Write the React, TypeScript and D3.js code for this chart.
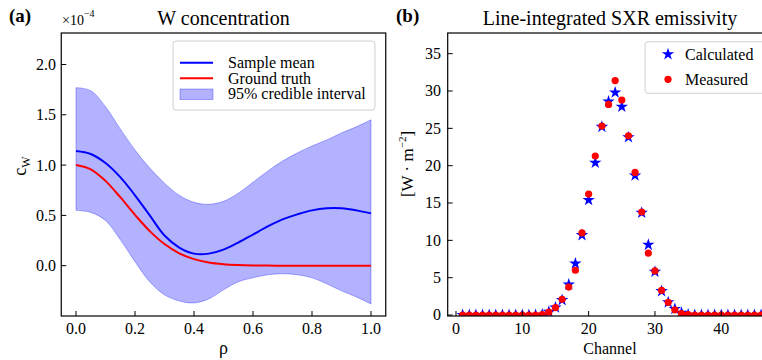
import React from "react";
import * as d3 from "d3";

// ---- Panel (a): W concentration profile (units of 1e-4) ----
const rhoGrid = [0, 0.05, 0.1, 0.15, 0.2, 0.25, 0.3, 0.35, 0.4, 0.45, 0.5, 0.55, 0.6, 0.65, 0.7, 0.75, 0.8, 0.85, 0.9, 0.95, 1.0];
const sampleMean = [1.14, 1.11, 1.02, 0.88, 0.70, 0.50, 0.30, 0.18, 0.12, 0.12, 0.16, 0.23, 0.31, 0.39, 0.46, 0.51, 0.55, 0.57, 0.57, 0.55, 0.52];
const groundTruth = [1.0, 0.958, 0.843, 0.681, 0.505, 0.344, 0.215, 0.123, 0.065, 0.031, 0.014, 0.006, 0.002, 0.001, 0, 0, 0, 0, 0, 0, 0];
const ciUpper = [1.77, 1.74, 1.58, 1.36, 1.15, 0.97, 0.82, 0.70, 0.63, 0.61, 0.64, 0.72, 0.83, 0.94, 1.04, 1.12, 1.19, 1.25, 1.32, 1.38, 1.45];
const ciLower = [0.55, 0.53, 0.45, 0.26, 0.04, -0.16, -0.29, -0.35, -0.37, -0.33, -0.24, -0.16, -0.12, -0.09, -0.08, -0.09, -0.12, -0.18, -0.25, -0.31, -0.38];
const rhoTicks = [0, 0.2, 0.4, 0.6, 0.8, 1.0];
const cwTicks = [0, 0.5, 1.0, 1.5, 2.0];

// ---- Panel (b): line-integrated SXR emissivity per channel ----
const channels = [1, 2, 3, 4, 5, 6, 7, 8, 9, 10, 11, 12, 13, 14, 15, 16, 17, 18, 19, 20, 21, 22, 23, 24, 25, 26, 27, 28, 29, 30, 31, 32, 33, 34, 35, 36, 37, 38, 39, 40, 41, 42, 43, 44, 45, 46];
const calculated = [0, 0, 0, 0, 0, 0, 0, 0, 0, 0, 0, 0, 0.05, 0.45, 1.0, 2.0, 4.1, 6.9, 10.7, 15.4, 20.4, 25.2, 28.6, 29.8, 27.9, 23.8, 18.7, 13.7, 9.4, 5.8, 3.2, 1.7, 0.8, 0.3, 0.05, 0, 0, 0, 0, 0, 0, 0, 0, 0, 0, 0];
const measured = [0, 0, 0, 0, 0, 0, 0, 0, 0, 0, 0, 0, 0.05, 0.4, 1.0, 2.1, 3.75, 6.0, 11.0, 16.2, 21.3, 25.3, 28.2, 31.4, 28.8, 24.0, 19.1, 13.8, 8.3, 5.9, 3.3, 1.7, 0.7, 0.2, 0.05, 0, 0, 0, 0, 0, 0, 0, 0, 0, 0, 0];
const channelTicks = [0, 10, 20, 30, 40];
const emisTicks = [0, 5, 10, 15, 20, 25, 30, 35];

const FONT = "Liberation Serif";
const BLUE = "#0000ff";
const RED = "#ff0000";

const A = { left: 61.25, right: 385.75, top: 33, bottom: 316 };
const B = { left: 447.7, right: 776, top: 33, bottom: 316 };

export default function App() {
  const xA = d3.scaleLinear().domain([-0.05, 1.05]).range([A.left, A.right]);
  const yA = d3.scaleLinear().domain([-0.5, 2.313]).range([A.bottom, A.top]);
  const xB = d3.scaleLinear().domain([-1.25, 48.25]).range([B.left, B.right]);
  const yB = d3.scaleLinear().domain([-0.13, 37.77]).range([B.bottom, B.top]);

  const idx = rhoGrid.map((_, i) => i);
  const curve = d3.curveCatmullRom.alpha(0.5);
  const band = d3
    .area<number>()
    .x((i) => xA(rhoGrid[i]))
    .y0((i) => yA(ciLower[i]))
    .y1((i) => yA(ciUpper[i]))
    .curve(curve)(idx) as string;
  const lineOf = (vals: number[]) =>
    d3
      .line<number>()
      .x((i) => xA(rhoGrid[i]))
      .y((i) => yA(vals[i]))
      .curve(curve)(idx) as string;

  const star = d3.symbol().type(d3.symbolStar).size(48)() as string;
  const tickLen = 5;

  return (
    <div style={{ position: "absolute", left: 0, top: 0, width: 762, height: 360, background: "#fff" }}>
      <svg width={762} height={360} style={{ display: "block" }} fontFamily={FONT}>
        <defs>
          <clipPath id="clipA">
            <rect x={A.left} y={A.top} width={A.right - A.left} height={A.bottom - A.top} />
          </clipPath>
          <clipPath id="clipB">
            <rect x={B.left} y={B.top} width={B.right - B.left} height={B.bottom - B.top} />
          </clipPath>
        </defs>
        <rect x={0} y={0} width={762} height={360} fill="#fff" />

        {/* ---------- Panel (a) ---------- */}
        <text x={9} y={22} fontSize={19} fontWeight="bold" fontFamily={FONT}>(a)</text>
        <text x={xA(0.5)} y={25} fontSize={20} textAnchor="middle" fontFamily={FONT}>W concentration</text>
        <text x={62} y={25} fontSize={14} fontFamily={FONT}>
          ×10<tspan dy={-8} fontSize={10}>−4</tspan>
        </text>

        <g clipPath="url(#clipA)">
          <path d={band} fill={BLUE} fillOpacity={0.3} stroke={BLUE} strokeOpacity={0.3} strokeWidth={1} />
          <path d={lineOf(groundTruth)} fill="none" stroke={RED} strokeWidth={2} />
          <path d={lineOf(sampleMean)} fill="none" stroke={BLUE} strokeWidth={2} />
        </g>

        {/* ticks point inward */}
        {rhoTicks.map((t) => (
          <g key={"xa" + t}>
            <line x1={xA(t)} x2={xA(t)} y1={A.bottom} y2={A.bottom - tickLen} stroke="#000" strokeWidth={1} />
            <text x={xA(t)} y={334} fontSize={16} textAnchor="middle" fontFamily={FONT}>{t.toFixed(1)}</text>
          </g>
        ))}
        {cwTicks.map((t) => (
          <g key={"ya" + t}>
            <line x1={A.left} x2={A.left + tickLen} y1={yA(t)} y2={yA(t)} stroke="#000" strokeWidth={1} />
            <text x={56} y={yA(t)} dy="0.34em" fontSize={16} textAnchor="end" fontFamily={FONT}>{t.toFixed(1)}</text>
          </g>
        ))}
        <rect x={A.left} y={A.top} width={A.right - A.left} height={A.bottom - A.top} fill="none" stroke="#000" strokeWidth={1.2} />

        <text x={xA(0.5)} y={354} fontSize={18} textAnchor="middle" fontFamily={FONT}>ρ</text>
        <text transform="translate(26,166) rotate(-90)" fontSize={18} textAnchor="middle" fontFamily={FONT}>
          c<tspan fontSize={12} dy={4}>W</tspan>
        </text>

        {/* legend (a) */}
        <g fontFamily={FONT}>
          <rect x={173} y={41} width={202} height={69} rx={3} fill="#fff" fillOpacity={0.8} stroke="#d0d0d0" strokeWidth={1} />
          <line x1={180} x2={213} y1={62.7} y2={62.7} stroke={BLUE} strokeWidth={2} />
          <text x={228} y={62.7} dy="0.34em" fontSize={16}>Sample mean</text>
          <line x1={180} x2={213} y1={78.3} y2={78.3} stroke={RED} strokeWidth={2} />
          <text x={228} y={78.3} dy="0.34em" fontSize={16}>Ground truth</text>
          <rect x={180} y={89} width={33} height={10.5} fill={BLUE} fillOpacity={0.3} stroke={BLUE} strokeOpacity={0.3} />
          <text x={228} y={94} dy="0.34em" fontSize={16}>95% credible interval</text>
        </g>

        {/* ---------- Panel (b) ---------- */}
        <text x={396} y={22} fontSize={19} fontWeight="bold" fontFamily={FONT}>(b)</text>
        <text x={610} y={25} fontSize={20} textAnchor="middle" fontFamily={FONT}>Line-integrated SXR emissivity</text>

        <g clipPath="url(#clipB)">
          {channels.map((c, i) => (
            <path key={"s" + c} d={star} transform={`translate(${xB(c)},${yB(calculated[i])})`} fill={BLUE} />
          ))}
          {channels.map((c, i) => (
            <circle key={"m" + c} cx={xB(c)} cy={yB(measured[i])} r={3.6} fill={RED} />
          ))}
        </g>

        {channelTicks.map((t) => (
          <g key={"xb" + t}>
            <line x1={xB(t)} x2={xB(t)} y1={B.bottom} y2={B.bottom - tickLen} stroke="#000" strokeWidth={1} />
            <text x={xB(t)} y={334} fontSize={16} textAnchor="middle" fontFamily={FONT}>{t}</text>
          </g>
        ))}
        {emisTicks.map((t) => (
          <g key={"yb" + t}>
            <line x1={B.left} x2={B.left + tickLen} y1={yB(t)} y2={yB(t)} stroke="#000" strokeWidth={1} />
            <text x={441} y={yB(t)} dy="0.34em" fontSize={16} textAnchor="end" fontFamily={FONT}>{t}</text>
          </g>
        ))}
        <rect x={B.left} y={B.top} width={B.right - B.left} height={B.bottom - B.top} fill="none" stroke="#000" strokeWidth={1.2} />

        <text x={610} y={354} fontSize={16} textAnchor="middle" fontFamily={FONT}>Channel</text>
        <text transform="translate(413,164) rotate(-90)" fontSize={17} textAnchor="middle" fontFamily={FONT}>
          [W · m<tspan fontSize={11} dy={-7}>−2</tspan><tspan dy={7}>]</tspan>
        </text>

        {/* legend (b) */}
        <g fontFamily={FONT}>
          <rect x={645} y={41.7} width={130} height={51.6} rx={3} fill="#fff" fillOpacity={0.8} stroke="#d0d0d0" strokeWidth={1} />
          <path d={star} transform="translate(668,54.3)" fill={BLUE} />
          <text x={685} y={54.3} dy="0.34em" fontSize={16}>Calculated</text>
          <circle cx={668} cy={79.3} r={3.6} fill={RED} />
          <text x={685} y={79.3} dy="0.34em" fontSize={16}>Measured</text>
        </g>
      </svg>
    </div>
  );
}
